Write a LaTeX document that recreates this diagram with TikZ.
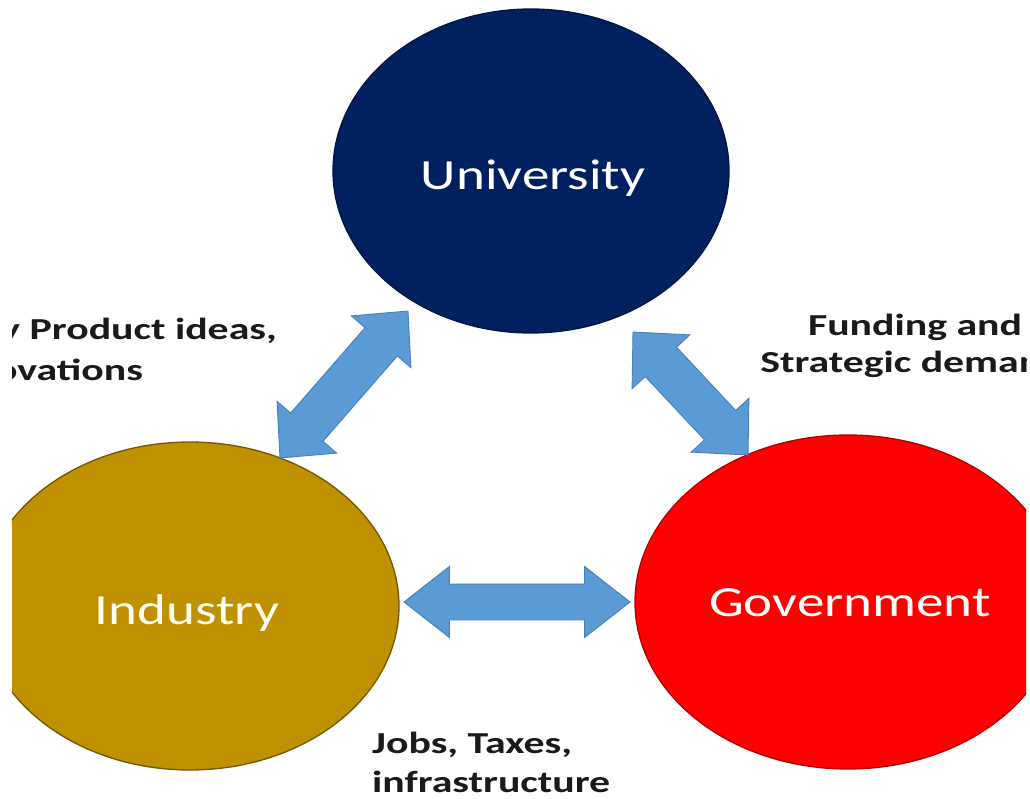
\documentclass[tikz,border=0pt]{standalone}
\usepackage{fontspec}
\setmainfont{Carlito}
\newfontfamily\bigfont[FakeStretch=1.28]{Carlito}
\newfontfamily\lblfont[FakeStretch=1.37]{Carlito}
\usetikzlibrary{shapes.geometric,shapes.arrows,calc}
\definecolor{uniblue}{HTML}{00205F}
\definecolor{indgold}{HTML}{BF9000}
\definecolor{govred}{HTML}{FF0000}
\definecolor{arrfill}{HTML}{5B9BD5}
\definecolor{arredge}{HTML}{4A7EBB}
\definecolor{lbltext}{HTML}{1A1A1A}
\begin{document}
\begin{tikzpicture}[x=1pt,y=-1pt,
  blob/.style={ellipse, inner sep=0pt, line width=1.3pt},
  bigtext/.style={text=white, font=\bigfont\fontsize{43}{50}\selectfont, inner sep=0pt},
  lbl/.style={text=lbltext, font=\lblfont\bfseries\fontsize{30.5}{37}\selectfont, inner sep=0pt},
  arrbase/.style={double arrow, fill=arrfill, draw=arredge, line width=0.9pt, inner xsep=0pt},
  diagarr/.style={arrbase, inner ysep=21pt, double arrow head extend=18pt, minimum width=78pt, double arrow tip angle=88},
  horzarr/.style={arrbase, inner ysep=17.5pt, double arrow head extend=17.5pt, minimum width=70pt, double arrow tip angle=76},
]
\useasboundingbox (0,0) rectangle (1030,799);
\fill[white] (0,0) rectangle (1030,799);
\begin{scope}
\clip (12,0) rectangle (1026,799);
% circles
\node[blob, fill=uniblue, draw=uniblue!70!black, minimum width=396pt, minimum height=324pt] (uni) at (531,171) {};
\node[blob, fill=indgold, draw=indgold!60!black, minimum width=418pt, minimum height=328pt] (ind) at (190,606) {};
\node[blob, fill=govred, draw=govred!70!black, minimum width=426pt, minimum height=334pt] (gov) at (848,602) {};
% circle texts
\node[bigtext, anchor=base] (uniT) at (533,190) {University};
\node[bigtext, anchor=base, text=white!94!yellow] (indT) at (187,624) {Industry};
\node[bigtext, anchor=base] (govT) at (850,616) {Government};
% arrow end points
\coordinate (L1) at (280,458);
\coordinate (L2) at (408,311);
\coordinate (R1) at (633,332);
\coordinate (R2) at (748,455);
\coordinate (H1) at (404,602);
\coordinate (H2) at (630,602);
% block arrows
\path let \p1=(L1), \p2=(L2), \n1={atan2(\y2-\y1,\x2-\x1)}, \n2={veclen(\x2-\x1,\y2-\y1)} in
  node[diagarr, minimum height=\n2, rotate=\n1] (arrIU) at ($(L1)!0.5!(L2)$) {};
\path let \p1=(R1), \p2=(R2), \n1={atan2(\y2-\y1,\x2-\x1)}, \n2={veclen(\x2-\x1,\y2-\y1)} in
  node[diagarr, minimum height=\n2, rotate=\n1] (arrUG) at ($(R1)!0.5!(R2)$) {};
\path let \p1=(H1), \p2=(H2), \n2={veclen(\x2-\x1,\y2-\y1)} in
  node[horzarr, minimum height=\n2] (arrIG) at ($(H1)!0.5!(H2)$) {};
% labels
\node[lbl, anchor=base east] (lblL1) at (277,340) {by Product ideas,};
\node[lbl, anchor=base east] (lblL2) at (143,380) {Innovations};
\node[lbl, anchor=base] (lblR1) at (915,335) {Funding and};
\node[lbl, anchor=base] (lblR2) at (912,372) {Strategic demand};
\node[lbl, anchor=base west] (lblB1) at (372,753) {Jobs, Taxes,};
\node[lbl, anchor=base west] (lblB2) at (372,792) {infrastructure};
\end{scope}
\end{tikzpicture}
\end{document}
